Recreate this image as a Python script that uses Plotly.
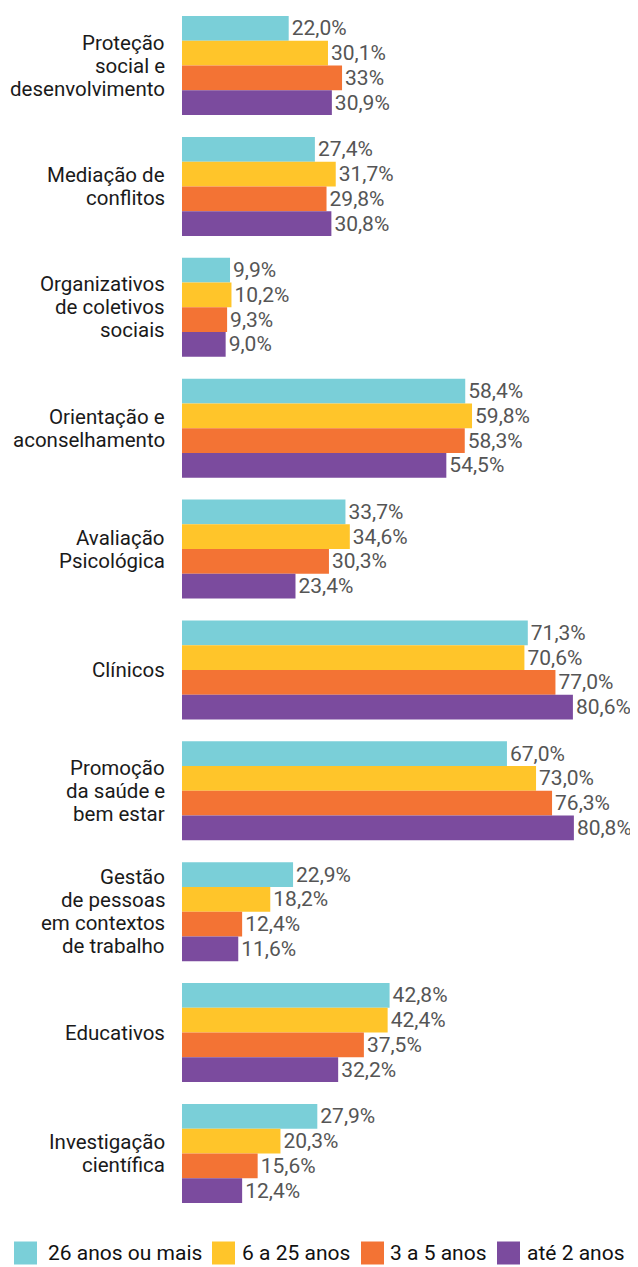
import plotly.graph_objects as go

categories = [
    "Proteção<br>social e<br>desenvolvimento",
    "Mediação de<br>conflitos",
    "Organizativos<br>de coletivos<br>sociais",
    "Orientação e<br>aconselhamento",
    "Avaliação<br>Psicológica",
    "Clínicos",
    "Promoção<br>da saúde e<br>bem estar",
    "Gestão<br>de pessoas<br>em contextos<br>de trabalho",
    "Educativos",
    "Investigação<br>científica",
]
series_names = ["26 anos ou mais", "6 a 25 anos", "3 a 5 anos", "até 2 anos"]
v_26mais = [22.0, 27.4, 9.9, 58.4, 33.7, 71.3, 67.0, 22.9, 42.8, 27.9]
v_6a25 = [30.1, 31.7, 10.2, 59.8, 34.6, 70.6, 73.0, 18.2, 42.4, 20.3]
v_3a5 = [33.0, 29.8, 9.3, 58.3, 30.3, 77.0, 76.3, 12.4, 37.5, 15.6]
v_ate2 = [30.9, 30.8, 9.0, 54.5, 23.4, 80.6, 80.8, 11.6, 32.2, 12.4]
t_26mais = ["22,0%", "27,4%", "9,9%", "58,4%", "33,7%", "71,3%", "67,0%", "22,9%", "42,8%", "27,9%"]
t_6a25 = ["30,1%", "31,7%", "10,2%", "59,8%", "34,6%", "70,6%", "73,0%", "18,2%", "42,4%", "20,3%"]
t_3a5 = ["33%", "29,8%", "9,3%", "58,3%", "30,3%", "77,0%", "76,3%", "12,4%", "37,5%", "15,6%"]
t_ate2 = ["30,9%", "30,8%", "9,0%", "54,5%", "23,4%", "80,6%", "80,8%", "11,6%", "32,2%", "12,4%"]
colors = ["#7ACFD8", "#FFC52A", "#F37334", "#7B4B9E"]

values = [v_26mais, v_6a25, v_3a5, v_ate2]
texts = [t_26mais, t_6a25, t_3a5, t_ate2]

# figure is placed 8px from the page's top-left corner by the browser
W, H = 630, 1259
ml, mr, mt = 174, 0, 0
plot_bottom = 1206
mb = H - plot_bottom
plot_w = W - ml - mr
plot_h = plot_bottom - mt
pitch = 120.89
first_center = 57.5
px_per_pct = 4.85

FONT = "Roboto"

fig = go.Figure()
for name, v, t, c in zip(series_names, values, texts, colors):
    fig.add_trace(go.Bar(
        y=categories, x=v, orientation="h", name=name,
        marker=dict(color=c, line=dict(width=0)),
        text=t, textposition="outside", cliponaxis=False,
        textfont=dict(family=FONT, size=21, color="#555555"),
        showlegend=False,
    ))

annotations = []
shapes = []

# category labels, one annotation per line for tight line spacing
line_gap = 23
for cat in categories:
    lines = cat.split("<br>")
    n = len(lines)
    for j, ln in enumerate(lines):
        annotations.append(dict(
            xref="paper", yref="y", x=0, y=cat, xanchor="right", yanchor="middle",
            xshift=-15, yshift=((n - 1) / 2 - j) * line_gap,
            text=ln, showarrow=False,
            font=dict(family=FONT, size=20.5, color="#1a1a1a"),
        ))

# manual legend
legend_sq_x = [6, 204, 353, 489]
legend_tx_x = [38, 232, 380, 517]
sq = 23
leg_cy = 1245
for sx, tx, name, c in zip(legend_sq_x, legend_tx_x, series_names, colors):
    shapes.append(dict(type="rect", xref="paper", yref="paper",
                       x0=(sx - ml) / plot_w, x1=(sx + sq - ml) / plot_w,
                       y0=(plot_bottom - (leg_cy + sq / 2)) / plot_h,
                       y1=(plot_bottom - (leg_cy - sq / 2)) / plot_h,
                       fillcolor=c, line=dict(width=0)))
    annotations.append(dict(xref="paper", yref="paper", x=(tx - ml) / plot_w,
                            y=(plot_bottom - leg_cy) / plot_h, text=name, showarrow=False,
                            xanchor="left", yanchor="middle",
                            font=dict(family=FONT, size=21, color="#111111")))

y_top = -first_center / pitch
y_bot = y_top + plot_h / pitch

fig.update_layout(
    width=W, height=H,
    margin=dict(l=ml, r=mr, t=mt, b=mb, pad=0),
    barmode="group", bargap=1 - 99 / pitch, bargroupgap=0,
    plot_bgcolor="white", paper_bgcolor="white",
    xaxis=dict(range=[0, plot_w / px_per_pct], visible=False),
    yaxis=dict(range=[y_bot, y_top], showgrid=False, zeroline=False, showline=False,
               ticks="", showticklabels=False),
    shapes=shapes, annotations=annotations,
)
fig.write_html("out.html")
